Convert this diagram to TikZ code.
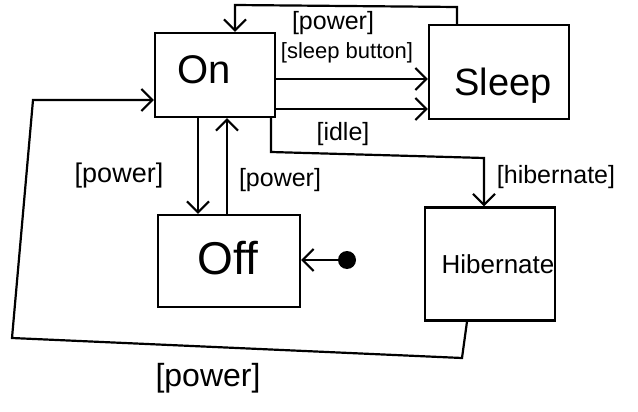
\documentclass[tikz,border=0pt]{standalone}
\usepackage{fontspec}
\setmainfont{Liberation Sans}
\usetikzlibrary{arrows.meta}
\begin{document}
\begin{tikzpicture}[x=1pt,y=-1pt,
  state/.style={draw,line width=2.2pt,inner sep=0pt,anchor=center},
  trans/.style={line width=2.2pt,-{Straight Barb[length=11pt,width=22pt,line width=2.2pt]}},
  lbl/.style={font=\fontsize{25}{25}\selectfont,inner sep=0pt}]
\useasboundingbox (0,0) rectangle (638,412);
% states
\node[state,minimum width=120pt,minimum height=84pt] (On) at (215,75) {};
\node[font=\fontsize{40}{40}\selectfont] (tOn) at (204,70) {On};
\node[state,minimum width=140pt,minimum height=94pt] (Sleep) at (499,72) {};
\node[font=\fontsize{38}{38}\selectfont] (tSleep) at (503,86) {Sleep};
\node[state,minimum width=142pt,minimum height=92pt] (Off) at (229,261) {};
\node[font=\fontsize{46}{46}\selectfont] (tOff) at (228,258) {Off};
\node[state,minimum width=130pt,minimum height=113pt] (Hib) at (490,264) {};
\node[font=\fontsize{26}{26}\selectfont] (tHib) at (498,264) {Hibernate};
\node[circle,fill,inner sep=0pt,minimum size=18pt] (init) at (347,260) {};
% coordinates for bends
\coordinate (t1) at (457,7);
\coordinate (t2) at (235,5);
\coordinate (h1) at (271,152);
\coordinate (h2) at (484,158);
\coordinate (b1) at (462,358);
\coordinate (b2) at (12,338);
\coordinate (b3) at (33,100);
% transitions
\draw[trans] (Sleep.north -| t1) -- (t1) -- (t2) -- (On.north -| t2);
\node[lbl] (lpow1) at (333,23) {[power]};
\draw[trans] (On.east |- 0,79) -- (Sleep.west |- 0,79);
\node[lbl,font=\fontsize{22}{22}\selectfont] (lsleep) at (347,53) {[sleep button]};
\draw[trans] (On.east |- 0,109) -- (Sleep.west |- 0,109);
\node[lbl] (lidle) at (343,134) {[idle]};
\draw[trans] (On.south -| h1) -- (h1) -- (h2) -- (Hib.north -| h2);
\node[lbl] (lhib) at (556,177) {[hibernate]};
\draw[trans] (On.south -| 198,0) -- (Off.north -| 198,0);
\node[lbl,font=\fontsize{27}{27}\selectfont] (lpow2) at (119,176) {[power]};
\draw[trans] (Off.north -| 227,0) -- (On.south -| 227,0);
\node[lbl] (lpow3) at (280,180) {[power]};
\draw[trans] (init) -- (Off.east |- init);
\draw[trans] (Hib.south -| 467,0) -- (b1) -- (b2) -- (b3) -- (On.west |- b3);
\node[lbl,font=\fontsize{32}{32}\selectfont] (lpow4) at (208,378) {[power]};
\end{tikzpicture}
\end{document}
